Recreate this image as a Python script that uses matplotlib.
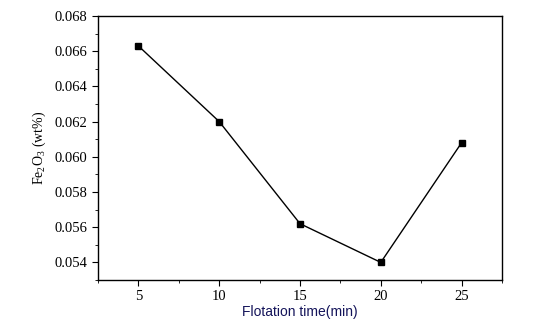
import matplotlib
matplotlib.use("Agg")
import matplotlib.pyplot as plt
from matplotlib.ticker import MultipleLocator

# flotation time (min) vs. Fe2O3 content in concentrate
time_min = [5, 10, 15, 20, 25]
fe2o3_wt = [0.0663, 0.0620, 0.0562, 0.0540, 0.0608]
y_ticks = [0.054, 0.056, 0.058, 0.060, 0.062, 0.064, 0.066, 0.068]

plt.rcParams["mathtext.fontset"] = "custom"
plt.rcParams["mathtext.rm"] = "Liberation Serif"
plt.rcParams["mathtext.it"] = "Liberation Serif"

fig = plt.figure(figsize=(5.51, 3.29), dpi=100)
ax = fig.add_axes([98 / 551, 1 - 280 / 329, 404 / 551, 264 / 329])

ax.plot(time_min, fe2o3_wt, color="black", linewidth=1.0,
        marker="s", markersize=5, markerfacecolor="black")

ax.set_xlim(2.5, 27.5)
ax.set_ylim(0.053, 0.068)
ax.xaxis.set_major_locator(MultipleLocator(5))
ax.xaxis.set_minor_locator(MultipleLocator(2.5))
ax.set_yticks(y_ticks)
ax.yaxis.set_minor_locator(MultipleLocator(0.001))
ax.set_yticklabels([f"{v:.3f}" for v in y_ticks])

ax.tick_params(which="both", direction="out", top=False, right=False,
               labelsize=10.5)
ax.tick_params(which="major", length=4)
ax.tick_params(which="minor", length=2.5)
for lab in ax.get_xticklabels() + ax.get_yticklabels():
    lab.set_family("Liberation Serif")

for sp in ax.spines.values():
    sp.set_linewidth(1.0)

ax.set_xlabel("Flotation time(min)", family="Liberation Sans", fontsize=10,
              color="#14145a", labelpad=1)
ax.set_ylabel(r"Fe$_\mathrm{2}$O$_\mathrm{3}$ (wt%)", family="Liberation Serif",
              fontsize=10, labelpad=5)

fig.savefig("out.png", dpi=100)
